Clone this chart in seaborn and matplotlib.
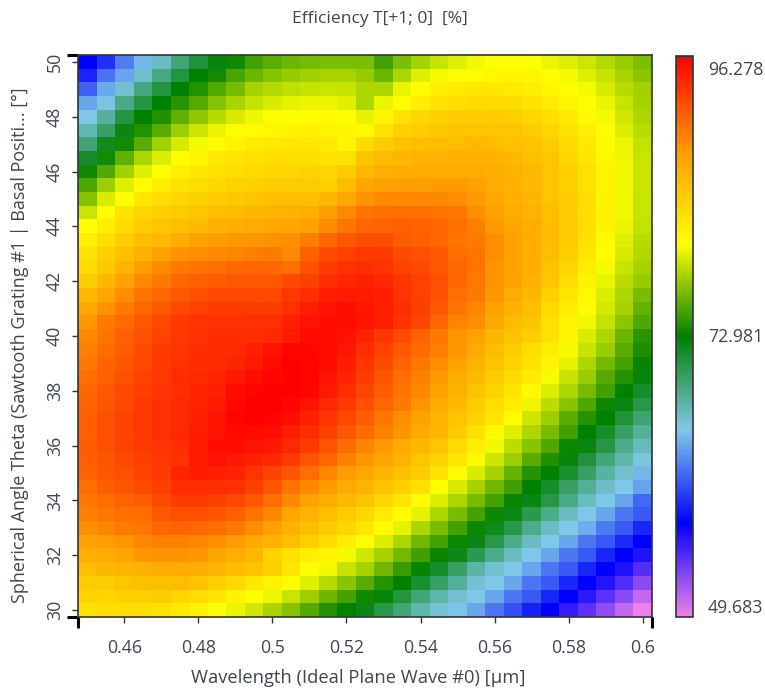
import pandas as pd
import seaborn as sns
import matplotlib.pyplot as plt
from matplotlib.colors import LinearSegmentedColormap

# Axis values
wavelengths = [0.45, 0.455, 0.46, 0.465, 0.47, 0.475, 0.48, 0.485, 0.49, 0.495, 0.5, 0.505, 0.51, 0.515, 0.52, 0.525,
               0.53, 0.535, 0.54, 0.545, 0.55, 0.555, 0.56, 0.565, 0.57, 0.575, 0.58, 0.585, 0.59, 0.595, 0.6]
thetas = [50, 49.5, 49, 48.5, 48, 47.5, 47, 46.5, 46, 45.5, 45, 44.5, 44, 43.5, 43, 42.5, 42, 41.5, 41, 40.5, 40,
          39.5, 39, 38.5, 38, 37.5, 37, 36.5, 36, 35.5, 35, 34.5, 34, 33.5, 33, 32.5, 32, 31.5, 31, 30.5, 30]
x_ticks = [0.46, 0.48, 0.5, 0.52, 0.54, 0.56, 0.58, 0.6]
x_tick_labels = ["0.46", "0.48", "0.5", "0.52", "0.54", "0.56", "0.58", "0.6"]
y_ticks = [50, 48, 46, 44, 42, 40, 38, 36, 34, 32, 30]
cbar_labels = ["96.278", "72.981", "49.683"]
vmin = 49.683
vmax = 96.278

# Efficiency, top row is theta=50
efficiency = [
    [57.5,59.4,62.3,64.6,66.5,69.0,71.0,72.5,73.5,75.0,75.8,76.3,76.6,76.8,76.8,76.8,75.0,76.8,78.0,79.0,79.8,80.3,80.8,80.8,80.7,80.1,79.8,79.2,78.4,77.7,76.8],
    [58.9,61.9,63.8,66.2,68.7,70.8,73.0,73.6,75.2,76.3,77.0,77.6,77.9,78.1,78.1,77.6,76.3,78.2,79.8,80.4,81.0,81.1,81.4,81.5,81.4,81.0,80.4,79.8,79.0,78.1,77.2],
    [61.2,64.0,66.0,68.8,70.8,73.0,74.0,75.5,76.6,78.0,78.4,78.8,79.0,79.1,79.0,78.2,78.2,80.0,81.0,82.0,82.3,82.6,82.6,82.4,82.0,81.4,81.0,80.4,79.5,78.6,77.9],
    [63.9,65.6,68.5,70.8,73.0,74.2,75.6,77.0,78.1,79.0,79.6,79.9,80.1,80.1,79.8,78.2,80.1,81.0,82.0,82.9,83.2,83.5,83.5,83.4,82.9,82.3,81.6,81.0,80.1,79.0,78.0],
    [65.3,67.7,70.8,73.0,74.0,75.9,77.3,78.6,79.6,80.2,80.9,81.0,81.0,81.0,81.0,79.9,81.5,83.0,83.8,84.2,84.5,84.5,84.6,84.3,83.9,83.2,82.3,81.2,80.4,79.3,78.2],
    [67.0,69.6,72.3,74.0,75.7,77.8,79.2,80.1,81.0,81.1,81.4,81.7,81.8,81.7,81.4,81.2,82.9,84.2,84.5,84.9,85.3,85.3,85.3,85.1,84.6,83.9,83.0,81.9,81.0,79.7,78.6],
    [69.1,72.0,73.6,75.7,77.9,79.5,80.4,81.2,81.7,82.2,82.4,82.6,82.6,82.4,81.7,83.5,84.6,85.3,85.6,85.9,85.9,86.0,85.9,85.6,85.3,84.6,83.6,82.4,81.2,80.1,78.9],
    [71.6,73.6,75.9,78.2,79.7,81.0,81.7,82.4,82.7,83.0,83.2,83.3,83.3,82.9,83.0,85.2,85.9,86.2,86.5,86.5,86.8,86.8,86.5,86.2,85.6,85.0,83.9,82.7,81.4,80.2,79.0],
    [73.5,75.5,77.9,79.8,81.0,81.9,82.6,83.0,83.3,83.6,83.9,83.9,84.0,83.9,84.6,86.2,86.8,87.1,87.1,87.2,87.2,87.2,86.9,86.5,86.0,85.3,84.3,83.0,81.6,80.3,79.1],
    [75.4,77.8,79.8,81.0,82.1,82.9,83.3,83.6,84.0,84.2,84.5,84.6,84.6,84.3,85.9,87.5,87.9,88.0,88.1,88.2,88.2,87.9,87.2,86.5,86.0,85.3,84.3,83.0,81.6,80.3,79.1],
    [77.0,79.6,81.0,82.6,83.3,83.9,84.2,84.5,84.9,85.2,85.6,85.6,85.6,86.2,87.5,88.8,89.2,89.2,89.3,89.2,89.0,88.3,87.5,86.8,86.2,85.3,84.5,83.3,81.7,80.3,79.0],
    [79.0,81.0,82.9,83.9,84.3,84.8,85.2,85.6,85.9,86.2,86.5,86.6,86.9,88.2,89.3,90.4,90.7,90.8,90.7,90.5,90.2,89.0,88.0,87.2,86.5,85.6,84.6,83.2,81.8,80.3,79.0],
    [80.9,82.1,83.5,84.6,85.2,85.6,86.0,86.5,86.9,87.2,87.5,87.6,87.9,89.2,90.3,91.1,91.2,91.4,91.2,91.0,90.7,89.8,88.4,87.5,86.9,85.9,84.6,83.3,81.7,80.1,78.9],
    [82.0,83.3,84.5,85.6,86.2,87.0,87.8,88.2,88.6,88.7,88.9,89.0,89.9,91.0,91.9,92.3,92.3,91.6,91.4,91.0,90.2,90.0,89.0,87.8,86.9,85.9,84.6,83.0,81.2,79.8,78.6],
    [82.9,84.3,85.5,86.8,87.8,88.8,89.0,89.3,89.5,89.8,90.0,89.3,91.3,92.4,92.9,93.3,93.2,92.4,92.2,91.7,90.8,90.3,89.0,87.8,86.9,85.9,84.3,82.7,81.0,79.5,78.3],
    [83.5,84.9,86.4,88.1,89.2,90.0,90.4,90.7,91.0,91.0,91.0,90.6,92.1,93.2,93.8,94.0,93.7,92.8,92.6,91.9,91.1,90.3,88.8,87.8,86.9,85.3,83.9,82.1,80.4,79.0,78.0],
    [84.6,86.2,87.9,89.2,90.0,91.0,91.4,91.6,91.9,91.9,91.9,92.4,93.0,93.9,94.3,94.6,94.3,93.5,92.9,92.2,91.1,90.1,88.8,87.9,86.5,85.0,83.3,81.8,80.0,78.7,77.6],
    [86.1,87.5,89.0,90.3,91.0,91.8,92.2,92.4,92.4,92.4,92.6,93.4,94.0,94.8,95.0,94.9,94.6,93.6,93.0,92.1,90.7,90.0,88.6,87.2,86.2,84.3,82.7,81.2,79.7,78.2,76.7],
    [87.5,88.9,90.0,91.0,91.8,92.6,93.0,93.2,93.2,93.1,93.1,93.9,94.8,95.3,95.5,95.1,94.8,93.9,93.0,91.9,90.3,89.4,87.9,86.5,85.6,83.6,82.1,80.9,79.4,78.0,76.0],
    [88.6,90.0,90.9,91.8,92.6,93.2,93.6,93.8,93.8,93.8,93.9,94.6,95.3,95.5,95.5,95.2,94.8,93.5,92.7,91.1,89.5,89.0,87.3,85.9,85.0,83.0,81.6,80.3,78.9,77.2,75.4],
    [89.2,90.3,91.4,92.2,92.8,93.4,93.8,94.0,94.0,94.0,94.1,95.0,95.7,95.7,95.3,94.5,93.4,92.4,91.2,90.0,88.8,87.8,86.2,85.3,84.3,83.0,81.7,79.6,78.2,76.2,74.2],
    [89.8,90.8,91.6,92.4,93.2,93.6,94.0,94.2,94.2,94.6,95.3,95.9,95.9,95.5,95.1,94.0,92.8,91.8,90.8,89.8,88.6,87.2,85.9,84.6,83.3,82.1,80.4,79.0,77.7,75.7,73.8],
    [90.1,91.2,91.9,92.6,93.2,93.8,94.0,94.2,94.4,95.0,95.7,96.2,96.0,95.5,94.8,93.5,92.4,91.2,90.1,89.0,87.8,86.5,85.3,84.0,83.0,81.6,79.9,78.2,76.5,75.0,73.2],
    [90.7,91.4,92.2,92.8,93.4,94.0,94.2,94.4,95.0,95.5,96.0,96.2,96.0,95.3,94.4,93.1,92.0,90.8,89.7,88.3,87.0,86.0,84.6,83.5,82.2,80.5,79.0,77.7,75.6,74.0,72.6],
    [91.0,91.8,92.4,93.0,93.6,94.0,94.4,94.6,95.5,96.0,96.2,96.2,95.9,95.0,94.0,92.7,91.5,90.3,89.2,87.8,86.5,85.3,84.0,82.7,81.2,79.7,78.2,76.6,74.9,73.0,71.6],
    [91.2,92.0,92.6,93.2,93.8,94.2,94.4,95.0,95.8,96.2,96.2,95.9,95.2,94.2,93.2,92.2,91.0,90.0,88.7,87.2,86.0,84.6,83.3,82.1,80.2,78.7,77.1,75.4,73.4,72.3,70.6],
    [91.4,92.2,92.8,93.4,93.8,94.2,94.6,95.2,96.0,96.2,96.0,95.5,94.6,93.6,92.6,91.5,90.2,89.0,87.8,86.5,85.3,84.0,82.7,81.0,79.2,77.8,75.7,74.1,73.0,71.0,69.2],
    [91.4,92.2,92.8,93.4,93.8,94.2,94.8,95.3,95.7,95.7,95.5,94.8,94.0,93.0,91.9,90.8,89.7,88.7,87.2,86.0,84.6,83.0,81.2,79.8,78.2,76.6,74.9,73.0,71.6,69.6,67.9],
    [91.6,92.2,92.8,93.2,93.6,94.0,95.0,95.5,95.5,95.2,95.0,94.2,93.2,92.0,90.8,89.5,88.3,87.2,86.2,85.0,83.6,82.0,80.3,78.7,77.1,75.4,73.4,72.4,70.7,68.4,66.7],
    [91.4,92.0,92.6,93.0,93.4,93.8,95.0,95.3,95.0,94.6,94.2,93.2,92.0,91.0,89.7,88.7,87.6,86.6,85.2,84.0,82.7,81.2,79.2,77.8,75.7,73.9,72.6,71.0,68.9,67.2,65.6],
    [91.2,91.9,92.2,92.8,93.2,94.4,94.8,94.6,94.4,93.6,92.8,91.9,90.8,89.4,88.2,87.5,86.5,85.6,84.6,83.0,81.0,79.6,78.0,76.0,74.1,73.0,71.4,69.6,67.6,66.0,64.6],
    [90.8,91.5,92.0,92.4,93.0,94.0,94.0,94.0,93.8,93.0,91.9,90.4,89.2,88.3,87.2,86.4,85.3,84.3,83.0,81.0,79.6,78.0,76.4,74.9,73.0,71.6,69.6,68.0,66.3,65.2,63.7],
    [90.2,90.8,91.2,91.6,92.4,93.2,93.2,93.0,92.6,91.8,90.8,89.3,87.8,86.9,86.0,85.1,83.9,82.7,81.0,79.7,78.2,76.6,75.0,73.3,72.3,70.6,68.5,66.6,65.2,63.7,61.5],
    [89.7,90.2,90.6,90.8,91.8,92.2,92.2,92.0,91.4,90.4,89.3,87.5,86.5,85.6,84.6,83.7,82.3,81.0,79.9,78.2,76.7,75.0,73.4,72.2,70.3,68.4,66.5,65.2,63.9,62.0,60.9],
    [89.0,89.4,90.0,90.2,91.0,91.2,91.0,90.6,90.0,89.0,87.9,86.6,85.6,84.6,83.9,82.7,81.0,79.9,78.2,76.7,75.0,73.4,72.0,70.5,68.4,66.6,65.2,64.2,62.2,60.9,58.9],
    [87.9,88.2,88.7,89.4,89.7,89.7,89.4,89.0,88.2,87.2,86.5,85.6,84.3,83.3,82.0,81.0,79.7,78.2,76.4,75.0,73.4,72.3,70.6,68.4,66.6,65.2,63.9,62.0,60.9,59.1,57.45],
    [86.9,87.2,87.6,88.6,88.9,88.9,88.6,87.6,86.9,86.2,84.0,83.0,82.0,81.5,80.4,79.3,78.0,76.5,74.9,73.3,72.2,70.3,68.4,66.5,65.2,63.9,62.0,60.9,58.9,57.45,56.4],
    [85.9,86.2,86.5,86.8,87.2,87.1,86.9,86.5,85.9,85.3,84.3,82.7,81.0,80.3,79.0,78.0,76.4,74.7,73.2,71.6,69.6,67.4,66.0,65.2,63.9,62.0,60.9,58.9,57.45,56.4,54.7],
    [84.6,84.6,85.2,85.6,85.6,85.9,85.3,84.3,83.6,82.6,81.6,81.0,79.8,78.5,77.1,75.7,74.1,73.0,71.4,69.6,67.8,66.0,65.2,63.9,62.0,60.9,58.9,57.45,56.3,54.8,53.0],
    [84.0,83.9,84.3,84.3,84.6,83.9,83.3,82.7,81.6,81.0,80.2,79.0,77.8,76.3,75.0,73.5,72.6,70.8,69.0,67.3,66.0,65.2,63.9,62.0,60.9,58.9,57.45,56.0,54.5,53.0,51.2],
    [83.0,83.3,83.3,83.3,83.0,82.3,81.6,81.0,80.1,79.3,78.1,77.0,75.5,74.0,73.0,72.3,70.6,69.0,67.2,65.9,65.0,63.9,62.0,60.6,58.7,57.45,55.8,54.5,52.8,51.2,49.683],
]

W = 765
H = 691

sns.set_theme(style="white")
plt.rcParams['font.family'] = ['Open Sans', 'DejaVu Sans']
text_color = '#3f4650'

df = pd.DataFrame(efficiency, index=thetas, columns=wavelengths)

# rainbow map: pink, blue, light blue, green, yellow, orange, red
colors = ['#f080e8', '#0000ff', '#80c8e8', '#008000', '#ffff00', '#ff9900', '#ff0000']
cmap = LinearSegmentedColormap.from_list('efficiency', colors, N=512)

fig = plt.figure(figsize=(W / 100, H / 100), dpi=100)
ax = fig.add_axes([78 / W, 1 - 617 / H, 574 / W, 562 / H])
cax = fig.add_axes([676 / W, 1 - 617 / H, 17 / W, 561 / H])

sns.heatmap(df, ax=ax, cmap=cmap, vmin=vmin, vmax=vmax, cbar_ax=cax, xticklabels=False, yticklabels=False)

# ticks sit on the cell centres
ax.set_xticks([wavelengths.index(v) + 0.5 for v in x_ticks])
ax.set_xticklabels(x_tick_labels, fontsize=12.8, color=text_color)
ax.set_yticks([thetas.index(v) + 0.5 for v in y_ticks])
ax.set_yticklabels(y_ticks, fontsize=12.8, color=text_color, rotation=90, va='center')
ax.tick_params(axis='both', which='major', length=4, width=1, color='#333333', bottom=True, left=True)
ax.tick_params(axis='x', which='major', pad=12)
ax.tick_params(axis='y', which='major', pad=6)

# thick marks at the axis ends
ax.set_xticks([0, len(wavelengths)], minor=True)
ax.set_yticks([0, len(thetas)], minor=True)
ax.tick_params(axis='both', which='minor', length=8, width=2.2, color='black', bottom=True, left=True)

for s in ax.spines.values():
    s.set_visible(True)
    s.set_color('#333333')
    s.set_linewidth(1.2)

ax.set_xlabel('Wavelength (Ideal Plane Wave #0) [µm]', fontsize=13.2, color=text_color, va='center')
ax.xaxis.set_label_coords((358 - 78) / 574, (617 - 678) / 562)
ax.set_ylabel('Spherical Angle Theta (Sawtooth Grating #1 | Basal Positi... [°]', fontsize=13, color=text_color, va='center')
ax.yaxis.set_label_coords((20 - 78) / 574, (617 - 345.5) / 562)
fig.text(380 / W, 1 - 19 / H, 'Efficiency T[+1; 0]  [%]', fontsize=12.6, color=text_color, ha='center', va='center')

cbar = ax.collections[0].colorbar
cbar.set_ticks([])
cbar.outline.set_visible(True)
cbar.outline.set_edgecolor('#333333')
cbar.outline.set_linewidth(1.2)
for lab, y in zip(cbar_labels, [70, 337, 608]):
    fig.text(708 / W, 1 - y / H, lab, fontsize=12.8, color=text_color, ha='left', va='center')

plt.savefig("out.png", dpi=100)
